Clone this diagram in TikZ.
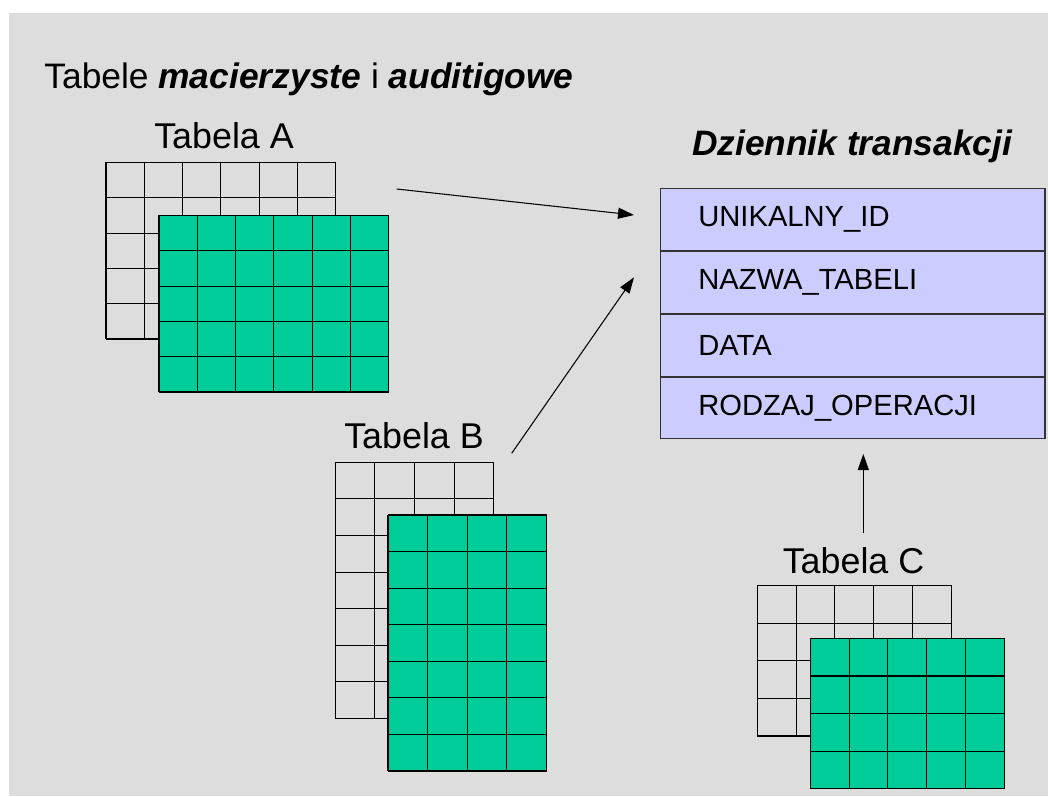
\documentclass[tikz,border=0pt]{standalone}
\usepackage{fontspec}
\setmainfont{Liberation Sans}
\usepackage{tikz}
\usetikzlibrary{positioning,arrows.meta}

\definecolor{bggray}{HTML}{DDDDDD}
\definecolor{tabgreen}{HTML}{00CC99}
\definecolor{logblue}{HTML}{CCCCFF}

\begin{document}
\begin{tikzpicture}[x=0.02cm,y=0.02cm,
	backgrid/.style={draw=black,line width=0.6pt},
	frontgrid/.style={draw=black,line width=0.6pt},
	lbl/.style={inner sep=0pt,anchor=base,font=\fontsize{20.4}{24}\selectfont},
	field/.style={draw=black!80,fill=logblue,line width=0.6pt,text width=6.182cm,align=left,
		inner xsep=0.752cm,inner ysep=0pt,minimum height=1.235cm,font=\fontsize{16.6}{19}\selectfont},
	arr/.style={line width=0.6pt,-{Triangle[length=0.32cm,width=0.22cm]}}]
	\useasboundingbox (0,0) rectangle (1048,-796);
	\fill[white] (0,0) rectangle (1048,-796);
	\fill[bggray] (9,-13) rectangle (1048,-796);
	\node[inner sep=0pt,anchor=base west,font=\fontsize{20.15}{24}\selectfont] (title) at (44,-88)
	{Tabele \textbf{\textit{macierzyste}} i \textbf{\textit{auditigowe}}};
	% tabela A
	\node[lbl] (labA) at (224,-148) {Tabela A};
	\draw[backgrid,shift={(106,-339)}] (0,0) grid[xstep=38.3,ystep=35.26] (230.1,176.6);
	\fill[tabgreen] (159,-392) rectangle (159+229.8,-392+176.3);
	\draw[frontgrid,shift={(159,-392)}] (0,0) grid[xstep=38.3,ystep=35.26] (230.1,176.6);
	% tabela B
	\node[lbl] (labB) at (414,-448) {Tabela B};
	\draw[backgrid,shift={(335.3,-718.3)}] (0,0) grid[xstep=39.6,ystep=36.57] (158.7,256.3);
	\fill[tabgreen] (388,-771) rectangle (388+158.4,-771+256);
	\draw[frontgrid,shift={(388,-771)}] (0,0) grid[xstep=39.6,ystep=36.57] (158.7,256.3);
	% tabela C
	\node[lbl] (labC) at (853.5,-573) {Tabela C};
	\draw[backgrid,shift={(757.3,-736)}] (0,0) grid[xstep=38.8,ystep=37.575] (194.3,150.6);
	\fill[tabgreen] (810.3,-788.7) rectangle (810.3+194,-788.7+150.3);
	\draw[frontgrid,shift={(810.3,-788.7)}] (0,0) grid[xstep=38.8,ystep=37.575] (194.3,150.6);
	% dziennik
	\node[inner sep=0pt,anchor=base,font=\fontsize{20.1}{24}\selectfont\bfseries\itshape] (logtitle) at (852,-155.7) {Dziennik transakcji};
	\node[field] (f1) at (852.85,-219.65) {UNIKALNY\_ID};
	\node[field,below=0pt of f1] (f2) {NAZWA\_TABELI};
	\node[field,below=0pt of f2] (f3) {DATA};
	\node[field,below=0pt of f3] (f4) {RODZAJ\_OPERACJI};
	% strzalki
	\coordinate (aOut) at (396.7,-189);
	\coordinate (aIn) at (634,-215);
	\coordinate (bOut) at (511.7,-453.3);
	\coordinate (bIn) at (634,-277.3);
	\coordinate (cOut) at (863.3,-533.3);
	\coordinate (cIn) at (863.3,-454);
	\draw[arr] (aOut) -- (aIn);
	\draw[arr] (bOut) -- (bIn);
	\draw[arr] (cOut) -- (cIn);
\end{tikzpicture}
\end{document}
